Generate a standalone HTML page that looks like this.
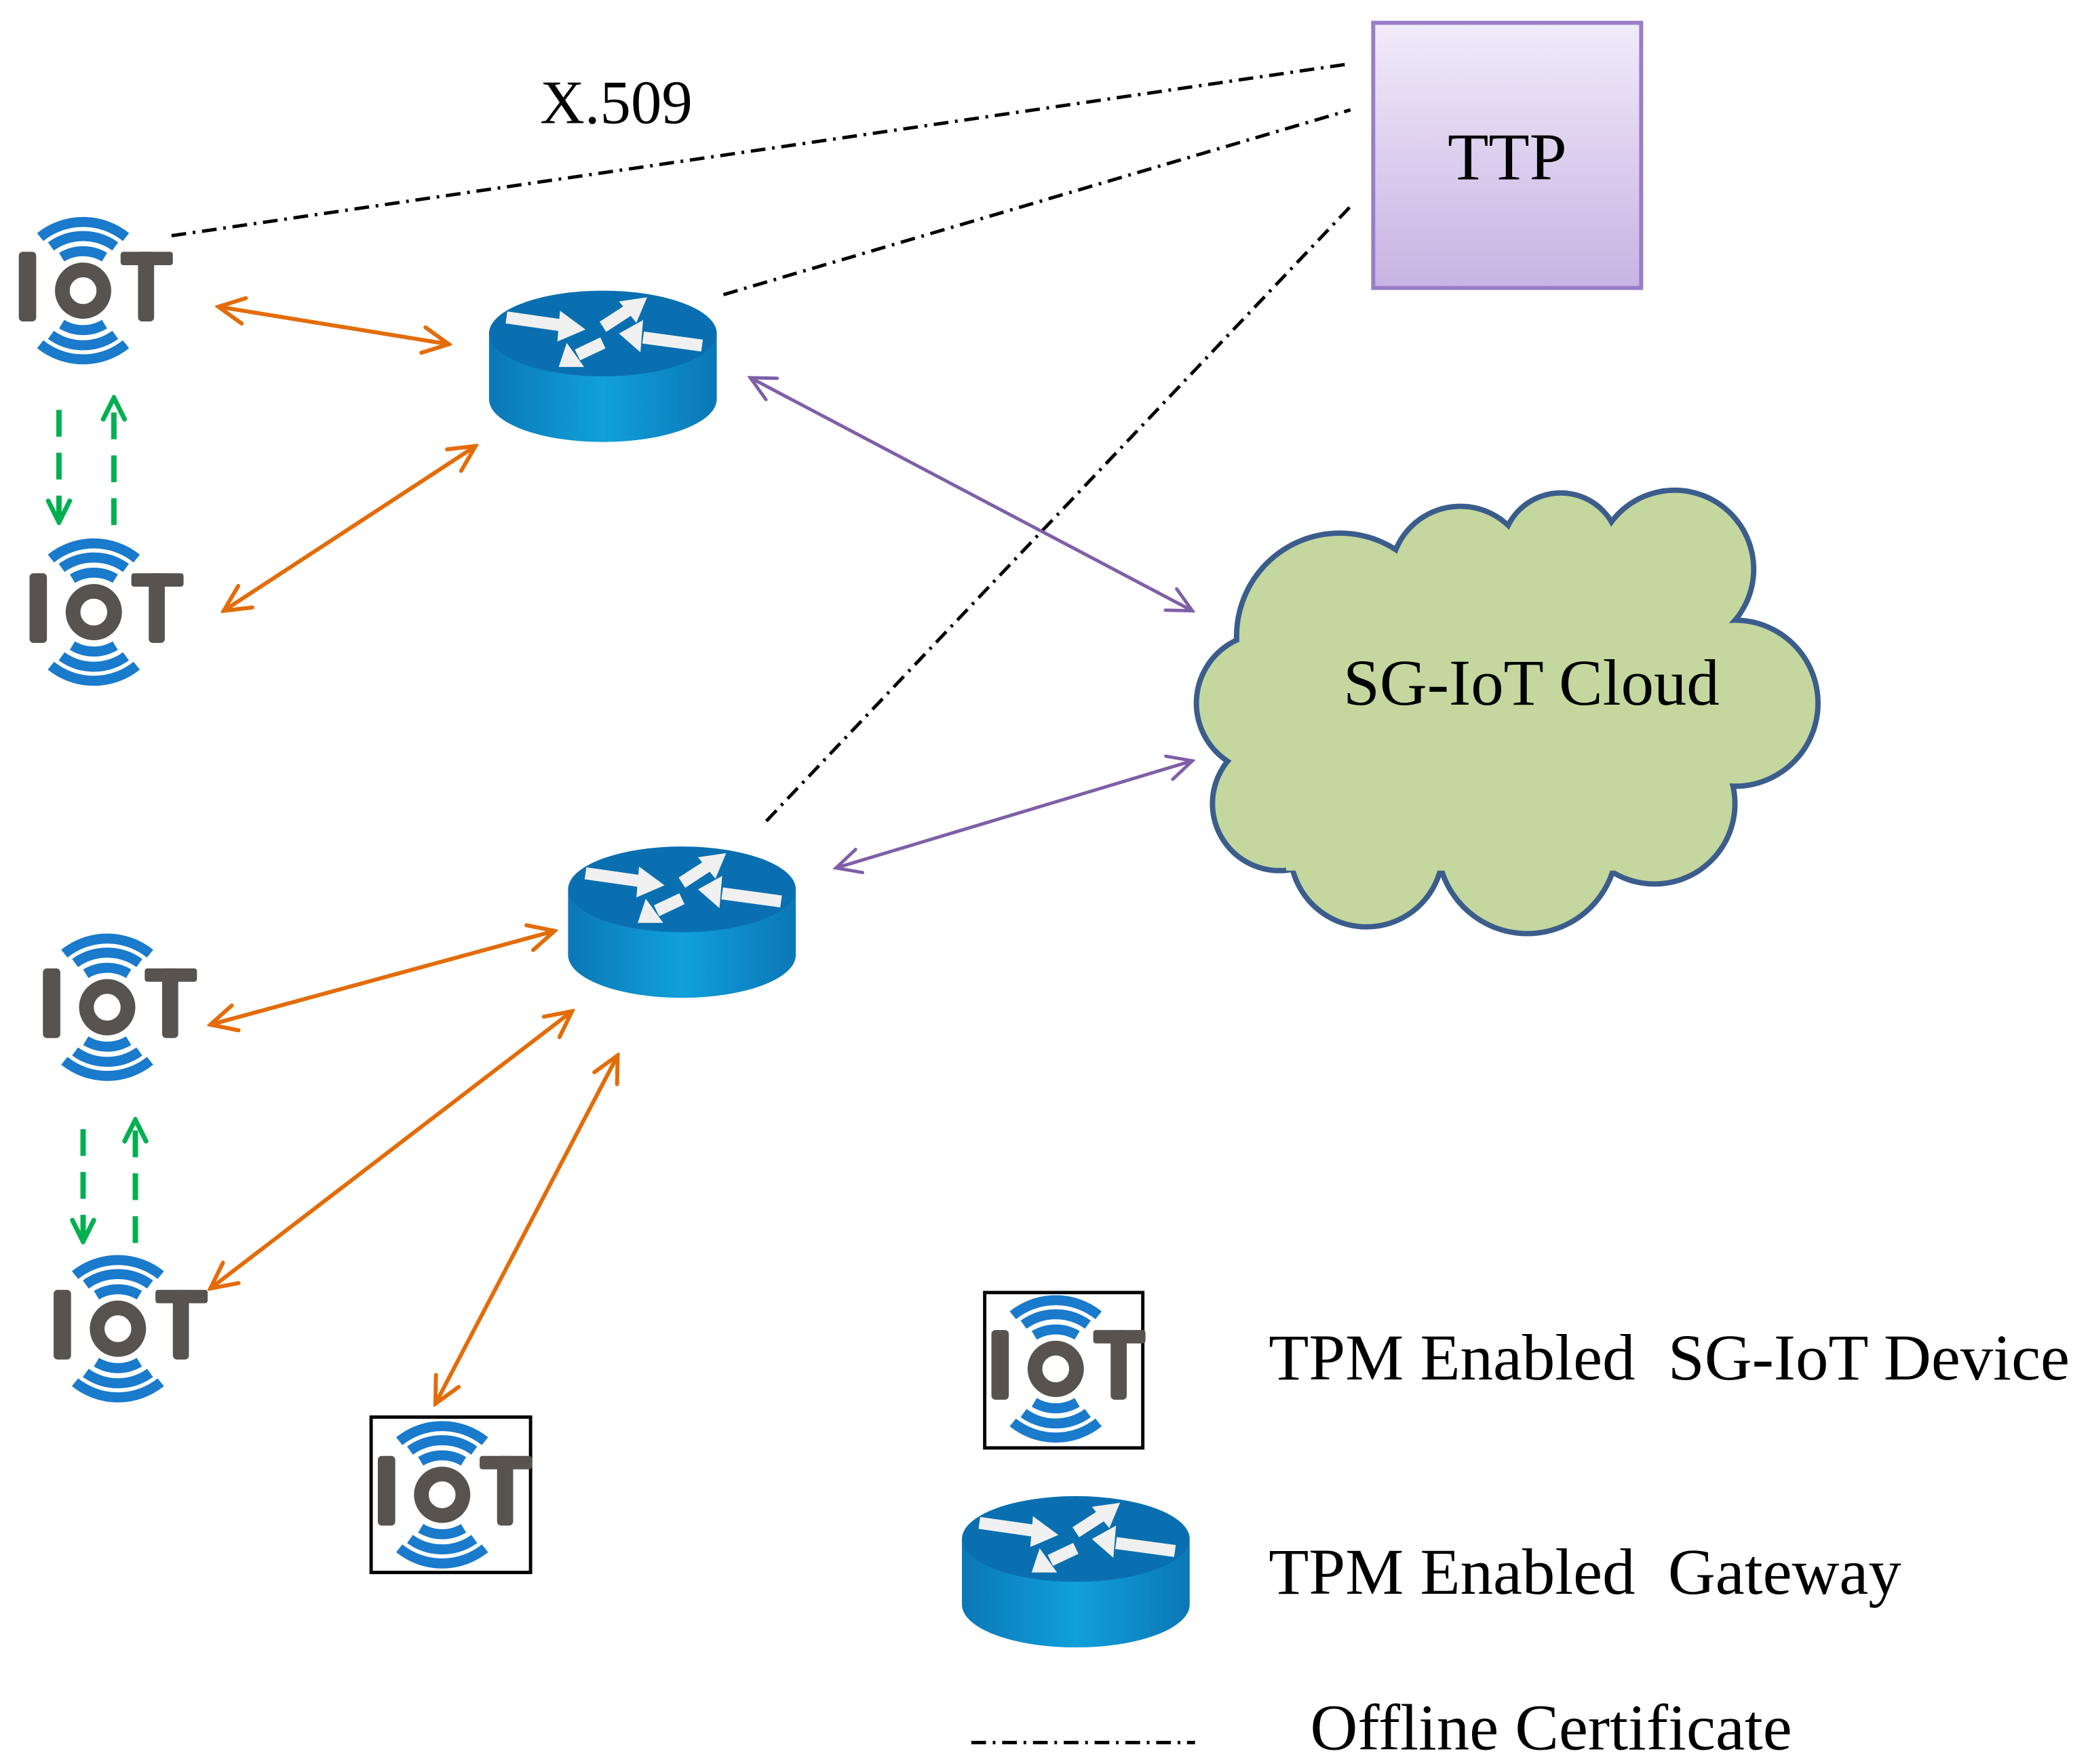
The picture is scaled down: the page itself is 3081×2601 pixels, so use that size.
<!DOCTYPE html>
<html><head><meta charset="utf-8"><style>
html,body{margin:0;padding:0;background:#fff;}
svg{display:block;}
text{font-family:"Liberation Serif",serif;fill:#000;}
</style></head><body>
<svg width="3081" height="2601" viewBox="0 0 1560 1317" xmlns="http://www.w3.org/2000/svg">
<defs>
<linearGradient id="ttp" x1="0" y1="0" x2="0" y2="1"><stop offset="0" stop-color="#f1ebfa"/><stop offset="1" stop-color="#c7b3e3"/></linearGradient>
<linearGradient id="rb" x1="0" y1="0" x2="1" y2="0"><stop offset="0" stop-color="#0b77b6"/><stop offset="0.5" stop-color="#10a0da"/><stop offset="1" stop-color="#0b77b6"/></linearGradient>
<marker id="mo" viewBox="0 0 20 20" refX="18" refY="10" markerWidth="8" markerHeight="8" orient="auto-start-reverse" markerUnits="strokeWidth"><path d="M2,2 L18,10 L2,18" fill="none" stroke="#e36c09" stroke-width="2.5" stroke-linecap="round"/></marker>
<marker id="mp" viewBox="0 0 20 20" refX="18" refY="10" markerWidth="9" markerHeight="9" orient="auto-start-reverse" markerUnits="strokeWidth"><path d="M2,2 L18,10 L2,18" fill="none" stroke="#7f5fa8" stroke-width="2.2" stroke-linecap="round"/></marker>
<marker id="mg" viewBox="0 0 20 20" refX="18" refY="10" markerWidth="5" markerHeight="5" orient="auto" markerUnits="strokeWidth"><path d="M2,2 L18,10 L2,18" fill="none" stroke="#00b050" stroke-width="3.5" stroke-linecap="round"/></marker>
<g id="iot">
<rect x="-48" y="-29" width="13" height="52" rx="3" fill="#58534e"/>
<circle cx="0" cy="0" r="15.5" fill="none" stroke="#58534e" stroke-width="11"/>
<rect x="28" y="-29" width="39" height="10" rx="2" fill="#58534e"/>
<rect x="41" y="-29" width="12" height="52" rx="3" fill="#58534e"/>
<g fill="none" stroke="#1a7acc" stroke-width="7.5">
<path d="M-16,-25 A31,31 0 0 1 16,-25"/>
<path d="M-24,-33 A41,41 0 0 1 24,-33"/>
<path d="M-32,-40 A51,51 0 0 1 32,-40"/>
<path d="M-16,25 A31,31 0 0 0 16,25"/>
<path d="M-24,33 A41,41 0 0 0 24,33"/>
<path d="M-32,40 A51,51 0 0 0 32,40"/>
</g>
</g>
<g id="router">
<path d="M-85,32 L-85,81 A85,32 0 0 0 85,81 L85,32 Z" fill="url(#rb)"/>
<ellipse cx="0" cy="32" rx="85" ry="32" fill="#0a6fb0"/>
<g stroke="#f0f0f0" stroke-width="9" fill="#f0f0f0">
<line x1="-72" y1="20" x2="-30" y2="26"/><polygon points="-13,29 -32,15 -34,38" stroke="none"/>
<line x1="0" y1="27" x2="20" y2="14"/><polygon points="33,5 12,8 25,24" stroke="none"/>
<line x1="74" y1="41" x2="30" y2="35"/><polygon points="12,32 30,22 28,46" stroke="none"/>
<line x1="0" y1="39" x2="-19" y2="48"/><polygon points="-33,57 -27,39 -14,57" stroke="none"/>
</g>
</g>
</defs>

<!-- dash-dot certificate lines -->
<g stroke="#000" stroke-width="2.5" stroke-dasharray="11 5 2 5" fill="none">
<line x1="128" y1="176" x2="1005" y2="48"/>
<line x1="540" y1="220" x2="1008" y2="82"/>
<line x1="572" y1="613" x2="1010" y2="152"/>
<line x1="725" y1="1301" x2="892" y2="1301"/>
</g>

<!-- TTP -->
<rect x="1025" y="17" width="200" height="198" fill="url(#ttp)" stroke="#9a7cc8" stroke-width="3"/>
<text x="1125" y="134" font-size="50" text-anchor="middle">TTP</text>
<text x="460" y="92" font-size="46" text-anchor="middle">X.509</text>

<!-- cloud -->
<g>
<g fill="#3b5d8c">
<circle cx="1000" cy="475" r="79"/><circle cx="1090" cy="430" r="54"/><circle cx="1165" cy="412" r="46"/><circle cx="1250" cy="425" r="61"/>
<circle cx="1295" cy="525" r="64"/><circle cx="1235" cy="600" r="62"/><circle cx="1140" cy="630" r="69"/><circle cx="1020" cy="635" r="59"/>
<circle cx="945" cy="525" r="54"/><circle cx="955" cy="600" r="52"/>
</g>
<g fill="#c4d79e">
<circle cx="1000" cy="475" r="75"/><circle cx="1090" cy="430" r="50"/><circle cx="1165" cy="412" r="42"/><circle cx="1250" cy="425" r="57"/>
<circle cx="1295" cy="525" r="60"/><circle cx="1235" cy="600" r="58"/><circle cx="1140" cy="630" r="65"/><circle cx="1020" cy="635" r="55"/>
<circle cx="945" cy="525" r="50"/><circle cx="955" cy="600" r="48"/>
<rect x="960" y="430" width="300" height="220"/>
</g>
</g>
<text x="1143" y="526" font-size="49" text-anchor="middle">SG-IoT Cloud</text>

<!-- orange links -->
<g stroke="#e36c09" stroke-width="3" fill="none" marker-start="url(#mo)" marker-end="url(#mo)">
<line x1="163" y1="229" x2="335" y2="257"/>
<line x1="167" y1="456" x2="355" y2="333"/>
<line x1="157" y1="765" x2="414" y2="695"/>
<line x1="157" y1="962" x2="427" y2="755"/>
<line x1="325" y1="1048" x2="461" y2="788"/>
</g>
<!-- purple links -->
<g stroke="#7f5fa8" stroke-width="2.5" fill="none" marker-start="url(#mp)" marker-end="url(#mp)">
<line x1="560" y1="282" x2="890" y2="456"/>
<line x1="624" y1="648" x2="890" y2="568"/>
</g>
<!-- green dashed -->
<g stroke="#00b050" stroke-width="4" fill="none" stroke-dasharray="20 12" marker-end="url(#mg)">
<line x1="44" y1="306" x2="44" y2="390"/>
<line x1="85" y1="392" x2="85" y2="297"/>
<line x1="62" y1="843" x2="62" y2="927"/>
<line x1="101" y1="928" x2="101" y2="836"/>
</g>

<!-- routers -->
<use href="#router" x="450" y="217"/>
<use href="#router" x="509" y="632"/>
<use href="#router" x="803" y="1117"/>

<!-- iot devices -->
<use href="#iot" x="62" y="217"/>
<use href="#iot" x="70" y="457"/>
<use href="#iot" x="80" y="752"/>
<use href="#iot" x="88" y="992"/>
<rect x="277" y="1058" width="119" height="116" fill="#fff" stroke="#000" stroke-width="2.5"/>
<use href="#iot" x="330" y="1116"/>
<rect x="735" y="965" width="118" height="116" fill="#fff" stroke="#000" stroke-width="2.5"/>
<use href="#iot" x="788" y="1022"/>

<!-- legend -->
<text x="947" y="1030" font-size="49" xml:space="preserve">TPM Enabled  SG-IoT Device</text>
<text x="947" y="1190" font-size="49" xml:space="preserve">TPM Enabled  Gateway</text>
<text x="978" y="1306" font-size="49">Offline Certificate</text>
</svg>
</body></html>
